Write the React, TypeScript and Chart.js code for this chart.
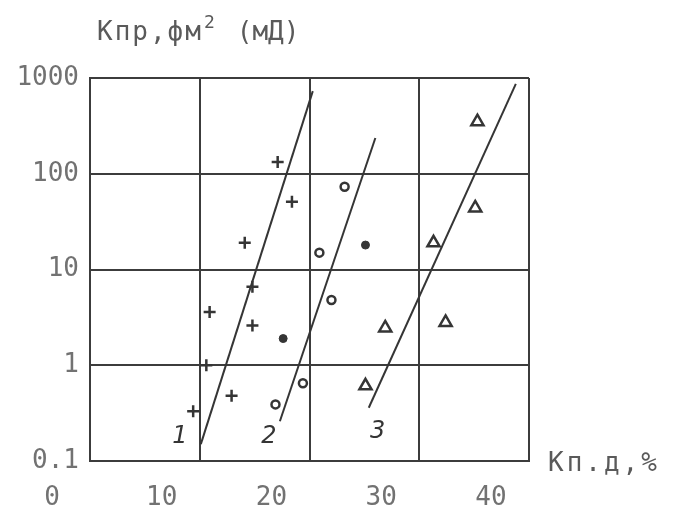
import React, { useEffect, useRef } from "react";
import { Chart, registerables } from "chart.js";

Chart.register(...registerables);

const xTicks = [0, 10, 20, 30, 40];
const yTicks = [0.1, 1, 10, 100, 1000];

const s1X = [17.1, 18.4, 14.1, 14.8, 10.9, 14.8, 10.6, 12.9, 9.4];
const s1Y = [133, 51, 19, 6.6, 3.6, 2.6, 1.0, 0.48, 0.33];

const s2X = [23.2, 20.9, 22.0, 19.4, 16.9];
const s2Y = [73, 15, 4.8, 0.65, 0.39];
const s2FilledX = [25.1, 17.6];
const s2FilledY = [18, 1.9];

const s3X = [35.3, 35.1, 31.3, 26.9, 32.4, 25.1];
const s3Y = [350, 44, 19, 2.45, 2.8, 0.61];

const line1X = [10.1, 20.3];
const line1Y = [0.15, 730];
const line2X = [17.3, 26.0];
const line2Y = [0.26, 236];
const line3X = [25.4, 38.8];
const line3Y = [0.36, 870];

const lineLabels = ["1", "2", "3"];
const lineLabelX = [8.2, 16.3, 26.2];
const lineLabelY = [0.18, 0.18, 0.2];

const yTitle = "Кпр,фм";
const yTitleSup = "2";
const yTitleUnit = "(мД)";
const xTitle = "Кп.д,%";

const pts = (xs: number[], ys: number[]) => xs.map((x, i) => ({ x, y: ys[i] }));

const INK = "#353535";
const TICK = "#727272";

const textPlugin = {
  id: "textPlugin",
  afterDatasetsDraw(chart: any) {
    const { ctx, scales } = chart;
    const xs = scales.x;
    const ys = scales.y;
    ctx.save();
    ctx.fillStyle = INK;
    ctx.font = "italic 24px 'DejaVu Sans'";
    ctx.textAlign = "center";
    ctx.textBaseline = "middle";
    lineLabels.forEach((t, i) => {
      ctx.fillText(t, xs.getPixelForValue(lineLabelX[i]), ys.getPixelForValue(lineLabelY[i]));
    });
    ctx.restore();
  },
  afterDraw(chart: any) {
    const { ctx, chartArea } = chart;
    ctx.save();
    ctx.fillStyle = "#5a5a5a";
    ctx.textBaseline = "alphabetic";
    ctx.textAlign = "left";
    // y axis title
    ctx.font = "26px 'DejaVu Sans Mono'";
    (ctx as any).letterSpacing = "2px";
    let x = chartArea.left + 7;
    const yb = chartArea.top - 38;
    ctx.fillText(yTitle, x, yb);
    x += ctx.measureText(yTitle).width + 1;
    (ctx as any).letterSpacing = "0px";
    ctx.font = "18px 'DejaVu Sans Mono'";
    ctx.fillText(yTitleSup, x, yb - 12);
    x += ctx.measureText(yTitleSup).width + 22;
    ctx.font = "26px 'DejaVu Sans Mono'";
    ctx.fillText(yTitleUnit, x, yb);
    // x axis title
    ctx.font = "26px 'DejaVu Sans Mono'";
    (ctx as any).letterSpacing = "3px";
    ctx.fillText(xTitle, chartArea.right + 19, chartArea.bottom + 10);
    ctx.restore();
  },
};

export default function App() {
  const ref = useRef<HTMLCanvasElement>(null);
  useEffect(() => {
    if (!ref.current) return;
    const lineDs = (xs: number[], ys: number[]) => ({
      type: "line" as const,
      data: pts(xs, ys),
      borderColor: INK,
      borderWidth: 2,
      pointRadius: 0,
      fill: false,
      tension: 0,
    });
    const chart = new Chart(ref.current, {
      type: "scatter",
      data: {
        datasets: [
          {
            data: pts(s1X, s1Y),
            pointStyle: "cross",
            pointRadius: 6,
            borderColor: INK,
            borderWidth: 2.5,
            backgroundColor: INK,
          },
          {
            data: pts(s2X, s2Y),
            pointStyle: "circle",
            pointRadius: 4,
            borderColor: INK,
            borderWidth: 2.5,
            backgroundColor: "rgba(0,0,0,0)",
          },
          {
            data: pts(s2FilledX, s2FilledY),
            pointStyle: "circle",
            pointRadius: 4,
            borderColor: INK,
            borderWidth: 1,
            backgroundColor: INK,
          },
          {
            data: pts(s3X, s3Y),
            pointStyle: "triangle",
            pointRadius: 7,
            borderColor: INK,
            borderWidth: 2.5,
            backgroundColor: "rgba(0,0,0,0)",
          },
          lineDs(line1X, line1Y),
          lineDs(line2X, line2Y),
          lineDs(line3X, line3Y),
        ] as any,
      },
      options: {
        animation: false,
        responsive: false,
        layout: { padding: { left: 0, top: 70, right: 136, bottom: 0 } },
        plugins: { legend: { display: false }, tooltip: { enabled: false } },
        scales: {
          x: {
            type: "linear",
            min: 0,
            max: 40,
            afterBuildTicks: (s: any) => {
              s.ticks = xTicks.map((v) => ({ value: v }));
            },
            afterFit: (s: any) => {
              s.height = 53;
            },
            grid: { color: "#3c3c3c", lineWidth: 2, drawTicks: false },
            border: { color: "#3c3c3c", width: 2 },
            ticks: {
              color: TICK,
              font: { family: "'DejaVu Sans Mono'", size: 26 },
              padding: 22,
              labelOffset: -38,
              maxRotation: 0,
              callback: (v: any) => String(v),
            },
          },
          y: {
            type: "logarithmic",
            min: 0.1,
            max: 1000,
            afterBuildTicks: (s: any) => {
              s.ticks = yTicks.map((v) => ({ value: v }));
            },
            afterFit: (s: any) => {
              s.width = 82;
            },
            grid: { color: "#3c3c3c", lineWidth: 2, drawTicks: false },
            border: { color: "#3c3c3c", width: 2 },
            ticks: {
              color: TICK,
              font: { family: "'DejaVu Sans Mono'", size: 26 },
              padding: 11,
              callback: (v: any) => String(v),
            },
          },
        },
      },
      plugins: [textPlugin],
    });
    return () => chart.destroy();
  }, []);
  return (
    <div style={{ width: 657, height: 506 }}>
      <canvas ref={ref} width={657} height={506} style={{ display: "block" }} />
    </div>
  );
}
